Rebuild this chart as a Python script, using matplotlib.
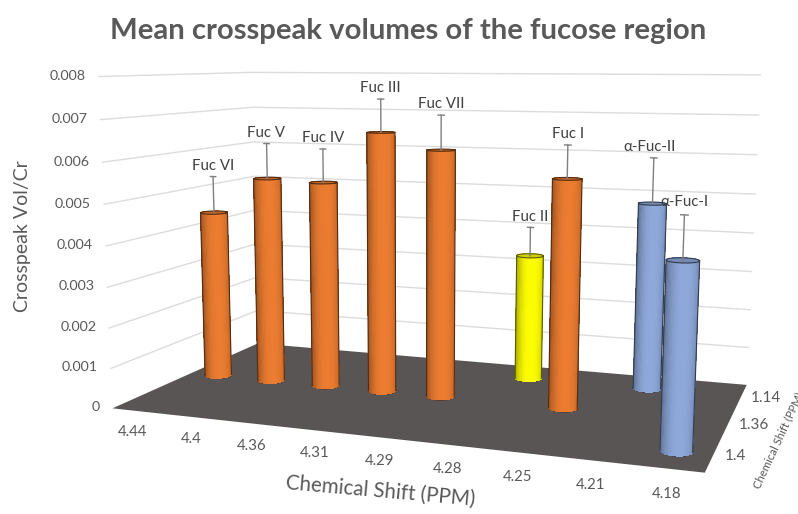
import numpy as np
import matplotlib
matplotlib.use('Agg')
import matplotlib.pyplot as plt
from mpl_toolkits.mplot3d.art3d import Poly3DCollection

plt.rcParams['font.family'] = ['Lato', 'DejaVu Sans']

# data
x_labels = ['4.44', '4.4', '4.36', '4.31', '4.29', '4.28', '4.25', '4.21', '4.18']
y_labels = ['1.4', '1.36', '1.14']
z_ticks = [0, 0.001, 0.002, 0.003, 0.004, 0.005, 0.006, 0.007, 0.008]
z_tick_labels = ['0', '0.001', '0.002', '0.003', '0.004', '0.005', '0.006', '0.007', '0.008']
names = ['Fuc VI', 'Fuc V', 'Fuc IV', 'Fuc III', 'Fuc VII', 'Fuc II', 'Fuc I', 'α-Fuc-II', 'α-Fuc-I']
shift_idx = [0, 1, 2, 3, 4, 5, 6, 7, 8]
row_idx = [1, 1, 1, 1, 1, 2, 1, 2, 0]
values = [0.0044, 0.00535, 0.0053, 0.0066, 0.0062, 0.0033, 0.0056, 0.0048, 0.0042]
errors = [0.00095, 0.0009, 0.00085, 0.00082, 0.00085, 0.00075, 0.0008, 0.00115, 0.00097]
colors = ['#ed7d31'] * 5 + ['#ffff00', '#ed7d31', '#8faadc', '#8faadc']

W, H = 798, 514
TEXT = '#595959'

# camera: fitted from where the box corners sit in the picture
world = np.array([[0, 0, 0], [0, 3, 0], [9, 3, 0], [9, 0, 0],
                  [0, 0, 8], [0, 3, 8], [9, 3, 8], [0, 0, 1], [9, 3, 1]], float)
pix = np.array([[113, 408], [257, 344], [747, 385], [705, 473],
                [98, 77], [253, 72], [760, 75], [111, 368], [748, 347]], float)
rows = []
for (a, b, c), (u, v) in zip(world, pix):
    rows.append([a, b, c, 1, 0, 0, 0, 0, -u*a, -u*b, -u*c, -u])
    rows.append([0, 0, 0, 0, a, b, c, 1, -v*a, -v*b, -v*c, -v])
P = np.linalg.svd(np.array(rows))[2][-1].reshape(3, 4)
P[:, 2] *= 1000  # z was in thousandths
if P[2] @ np.array([4.5, 1.5, 0, 1]) < 0:
    P = -P
P = P / (P[2] @ np.array([4.5, 1.5, 0, 1]))


def to_pixels(x, y, z):
    v = P @ np.array([x, y, z, np.ones_like(x)])
    return v[0] / v[2], v[1] / v[2]


fig = plt.figure(figsize=(W / 100, H / 100), dpi=100)
ax = fig.add_axes([0, 0, 1, 1], projection='3d', computed_zorder=False)


def get_proj():
    aff = np.linalg.inv(ax.transData.get_matrix())
    flip = np.array([[1, 0, 0], [0, -1, H], [0, 0, 1]], float)
    Q = aff @ flip @ P
    return np.array([Q[0], Q[1], [0, 0, 0, -1], Q[2]])


ax.get_proj = get_proj
ax.apply_aspect = lambda position=None: None
ax.set_axis_off()

# walls and floor
for z in z_ticks[1:]:
    ax.plot([0, 0, 9], [0, 3, 3], [z, z, z], color='#dcdcdc', lw=1.0, zorder=1)
floor = Poly3DCollection([[(0, 0, 0), (0, 3, 0), (9, 3, 0), (9, 0, 0)]],
                         facecolor='#595555', edgecolor='none', zorder=2)
ax.add_collection3d(floor)

# bars, back row first
order = sorted(range(len(values)), key=lambda i: (-row_idx[i], shift_idx[i]))
theta = np.linspace(0, 2 * np.pi, 61)
rx, ry = 0.22, 0.14
zo = 3
for i in order:
    cx = shift_idx[i] + 0.5
    cy = row_idx[i] + 0.5
    val = values[i]
    ringx = cx + rx * np.cos(theta)
    ringy = cy + ry * np.sin(theta)
    base = np.array(matplotlib.colors.to_rgb(colors[i]))

    sx = to_pixels(ringx, ringy, np.zeros_like(theta))[0]
    t = (sx - sx.min()) / (sx.max() - sx.min())
    light = 0.99 - 1.5 * np.abs(t - 0.55) ** 2.5
    fc = np.clip(np.outer(light, base), 0, 1)
    fc = np.column_stack([fc, np.ones(len(theta))])
    fc = np.stack([fc, fc])

    edge = tuple(base * 0.35)
    ax.plot(ringx, ringy, np.zeros_like(theta), color=edge, lw=0.9, zorder=zo)
    X = np.vstack([ringx, ringx])
    Y = np.vstack([ringy, ringy])
    Z = np.vstack([np.zeros_like(theta), np.full_like(theta, val)])
    ax.plot_surface(X, Y, Z, facecolors=fc, shade=False, rstride=1, cstride=1,
                    linewidth=0, antialiased=False, zorder=zo + 0.1)
    cap = Poly3DCollection([list(zip(ringx, ringy, np.full_like(theta, val)))],
                           facecolor=tuple(base * 0.82), edgecolor='none', zorder=zo + 0.2)
    ax.add_collection3d(cap)
    ax.plot(ringx, ringy, np.full_like(theta, val), color=edge, lw=0.8, zorder=zo + 0.3)
    for k in (sx.argmin(), sx.argmax()):
        ax.plot([ringx[k]] * 2, [ringy[k]] * 2, [0, val], color=edge, lw=0.8, zorder=zo + 0.3)

    top = val + errors[i]
    ax.plot([cx, cx], [cy, cy], [val, top], color='#7f7f7f', lw=1.0, zorder=zo + 0.4)
    ax.plot([cx - 0.05, cx + 0.05], [cy, cy], [top, top], color='#7f7f7f', lw=1.0, zorder=zo + 0.4)
    label_x = cx - 0.07 if names[i] == 'α-Fuc-II' else cx
    ax.text(label_x, cy, top + 0.00027, names[i], fontsize=10.8, color='#404040',
            ha='center', va='center', zorder=50)
    zo += 1

# tick labels
for z, lab in zip(z_ticks, z_tick_labels):
    ax.text(-0.23, 0, z, lab, fontsize=10.3, color=TEXT, ha='right', va='center', zorder=50)
for i, lab in enumerate(x_labels):
    ax.text(1.0 + 0.96 * i, -0.62, 0, lab, fontsize=10.8, color=TEXT, ha='center', va='center',
            rotation=-4, zorder=50)
for i, lab in enumerate(y_labels):
    ax.text(9.15, i + 0.5, 0, lab, fontsize=11, color=TEXT, ha='left', va='center', zorder=50)

fig.text(408 / W, 1 - 31 / H, 'Mean crosspeak volumes of the fucose region', fontsize=21.1,
         fontweight='bold', color=TEXT, ha='center', va='center')
fig.text(23 / W, 1 - 236 / H, 'Crosspeak Vol/Cr', fontsize=14, color=TEXT,
         rotation=90, ha='center', va='center')
fig.text(380 / W, 1 - 491 / H, 'Chemical Shift (PPM)', fontsize=14.8, color=TEXT,
         rotation=-5, ha='center', va='center')
fig.text(778 / W, 1 - 440 / H, 'Chemical Shift (PPM)', fontsize=8.2, color=TEXT,
         rotation=65, ha='center', va='center')

fig.savefig('out.png', dpi=100)
